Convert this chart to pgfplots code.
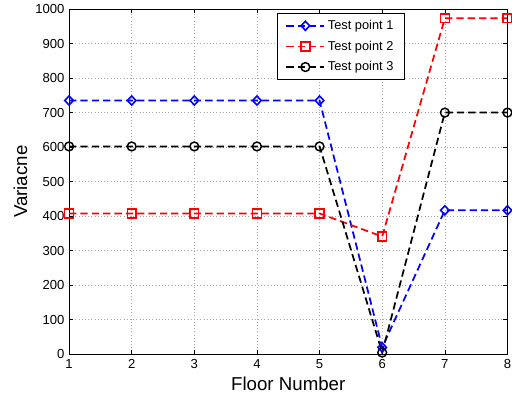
\documentclass[border=0pt]{standalone}
\usepackage{fontspec}
\setmainfont{Liberation Sans}
\usepackage{pgfplots}
\pgfplotsset{compat=1.18}
\begin{document}
\begin{tikzpicture}
\begin{axis}[
  name=ax,
  scale only axis,
  width=328.5pt, height=258.75pt,
  xmin=1, xmax=8, ymin=0, ymax=1000,
  xtick={1,...,8},
  ytick={0,100,...,1000},
  tick align=inside,
  major tick length=3pt,
  grid=major,
  grid style={dotted, gray!70, line width=0.5pt},
  axis line style={line width=0.6pt},
  tick style={black, line width=0.5pt},
  /pgf/number format/assume math mode=true,
  /pgf/number format/1000 sep={},
  ticklabel style={font=\fontsize{9.8}{11}\selectfont},
  xlabel={Floor Number},
  ylabel={Variacne},
  label style={font=\fontsize{14}{16}\selectfont},
  xlabel style={yshift=0pt},
  ylabel style={yshift=-1pt},
  legend style={at={(0.765,0.988)}, anchor=north east, font=\fontsize{9.6}{11}\selectfont, draw=black, line width=0.5pt, inner xsep=6pt, inner ysep=3pt, row sep=3pt, cells={anchor=west}},
  legend image code/.code={\draw[mark repeat=2,mark phase=2,#1] plot coordinates {(0cm,0cm) (0.5cm,0cm) (1.0cm,0cm)};},
  legend cell align=left,
  clip=false,
]
\addplot[blue, dash pattern=on 5.5pt off 3pt, line width=1.3pt, mark=diamond, mark size=3.4pt, mark options={solid, xscale=1.25, line width=1.2pt}] coordinates {
(1,735) (2,735) (3,735) (4,735) (5,735) (6,20) (7,417) (8,417)};
\addlegendentry{Test point 1}
\addplot[red, dash pattern=on 5.5pt off 3pt, line width=1.3pt, mark=square, mark size=3.3pt, mark options={solid, line width=1.1pt}] coordinates {
(1,408) (2,408) (3,408) (4,408) (5,408) (6,341) (7,973) (8,973)};
\addlegendentry{Test point 2}
\addplot[black, dash pattern=on 5.5pt off 3pt, line width=1.3pt, mark=o, mark size=3.3pt, mark options={solid, line width=1.1pt}] coordinates {
(1,602) (2,602) (3,602) (4,602) (5,602) (6,5) (7,700) (8,700)};
\addlegendentry{Test point 3}
\end{axis}
\pgfresetboundingbox
\path (ax.south west) +(-51.75pt,-34.5pt) (ax.north east) +(3.4pt,6.75pt);
\end{tikzpicture}
\end{document}
